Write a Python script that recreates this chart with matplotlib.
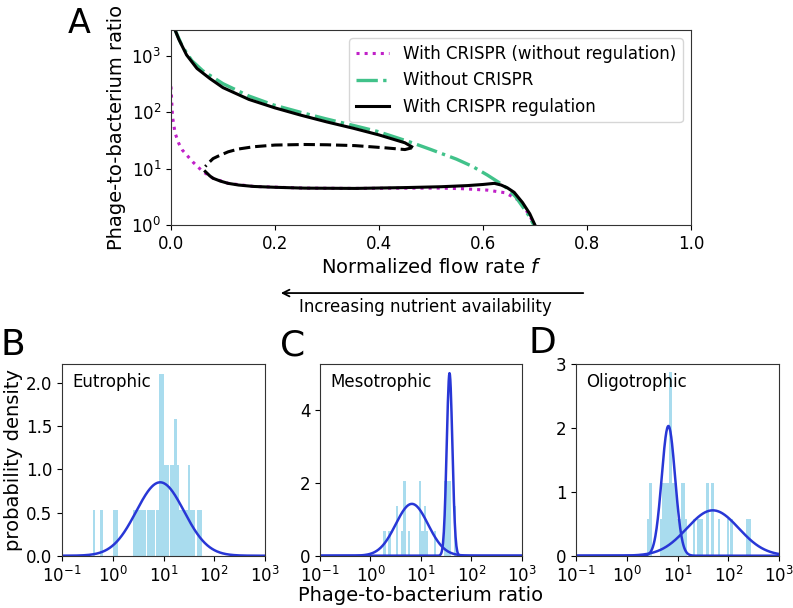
import numpy as np
import matplotlib
matplotlib.use('Agg')
from matplotlib import pyplot as plt
from matplotlib.ticker import NullLocator

# ---- panel A: steady states vs normalized flow rate (log10 of ratio)
f_noreg = [0.0, 0.003, 0.008, 0.015, 0.022, 0.042, 0.061, 0.081, 0.11, 0.159, 0.257,
           0.354, 0.452, 0.52, 0.56, 0.608, 0.642, 0.657, 0.671, 0.686, 0.70]
log_noreg = [2.46, 1.92, 1.63, 1.45, 1.33, 1.12, 0.95, 0.83, 0.74, 0.685, 0.655,
             0.65, 0.655, 0.655, 0.645, 0.62, 0.574, 0.503, 0.426, 0.22, 0.0]

f_nocrispr = [0.006, 0.008, 0.022, 0.04, 0.061, 0.1, 0.15, 0.198, 0.25, 0.296, 0.35,
              0.398, 0.461, 0.5, 0.549, 0.58, 0.608, 0.63, 0.647, 0.663, 0.676, 0.688, 0.696, 0.70]
log_nocrispr = [3.55, 3.46, 3.17, 2.92, 2.74, 2.51, 2.29, 2.13, 2.0, 1.89, 1.77,
                1.66, 1.47, 1.34, 1.17, 1.04, 0.89, 0.76, 0.65, 0.5, 0.33, 0.17, 0.03, 0.0]

f_upper = [0.006, 0.008, 0.015, 0.03, 0.05, 0.075, 0.1, 0.15, 0.2, 0.25, 0.3, 0.35, 0.4, 0.45, 0.463]
log_upper = [3.55, 3.46, 3.3, 3.02, 2.78, 2.6, 2.44, 2.23, 2.08, 1.95, 1.83, 1.72, 1.6, 1.46, 1.39]

f_unstable = [0.463, 0.45, 0.413, 0.354, 0.3, 0.257, 0.2, 0.159, 0.13, 0.11, 0.09, 0.081, 0.072, 0.066]
log_unstable = [1.37, 1.34, 1.37, 1.41, 1.425, 1.43, 1.42, 1.39, 1.35, 1.3, 1.22, 1.18, 1.1, 1.04]

f_lower = [0.066, 0.075, 0.081, 0.095, 0.11, 0.13, 0.159, 0.2, 0.257, 0.354, 0.452, 0.52,
           0.57, 0.6, 0.622, 0.635, 0.647, 0.66, 0.676, 0.69, 0.70]
log_lower = [0.95, 0.87, 0.83, 0.78, 0.74, 0.71, 0.685, 0.67, 0.655, 0.65, 0.665, 0.68,
             0.7, 0.72, 0.74, 0.71, 0.66, 0.58, 0.4, 0.2, 0.0]

# ---- panels B-D: histogram bars (log10 left/right edge, density) and gaussian fits in log10
eu_left = [-0.382, -0.243, 0.013, 0.408, 0.52, 0.67, 0.855, 0.908, 1.013, 1.118, 1.21, 1.263,
           1.303, 1.474, 1.513, 1.566, 1.658, 1.72]
eu_right = [-0.342, -0.197, 0.105, 0.513, 0.66, 0.842, 0.903, 1.008, 1.113, 1.21, 1.263, 1.303,
            1.474, 1.513, 1.553, 1.618, 1.71, 1.757]
eu_height = [0.53, 0.53, 0.53, 0.53, 0.53, 0.53, 0.53, 2.11, 1.05, 1.05, 1.58, 1.05,
             0.53, 1.05, 0.53, 0.53, 0.53, 0.53]
eu_fits = [(0.934, 0.47, 0.85)]

meso_left = [0.25, 0.355, 0.5, 0.605, 0.645, 0.737, 0.961, 1.0, 1.066, 1.105, 1.25, 1.46, 1.645]
meso_right = [0.303, 0.408, 0.553, 0.645, 0.697, 0.776, 1.0, 1.066, 1.105, 1.145, 1.29, 1.592, 1.684]
meso_height = [0.68, 0.68, 1.37, 0.68, 2.05, 0.68, 2.05, 0.68, 1.37, 0.68, 0.68, 2.05, 1.37]
meso_fits = [(0.82, 0.32, 1.42), (1.566, 0.056, 5.0)]

oligo_left = [0.397, 0.437, 0.649, 0.702, 0.834, 0.887, 0.98, 1.06, 1.152, 1.311, 1.391,
              1.563, 1.656, 1.80, 1.97, 2.04, 2.358]
oligo_right = [0.437, 0.49, 0.702, 0.834, 0.887, 0.98, 1.06, 1.152, 1.192, 1.351, 1.497,
               1.616, 1.709, 1.84, 2.01, 2.093, 2.45]
oligo_height = [0.57, 1.14, 0.57, 1.14, 2.87, 1.14, 0.57, 1.14, 0.57, 0.57, 0.57,
                1.14, 1.14, 0.57, 0.57, 0.57, 0.57]
oligo_fits = [(0.82, 0.132, 2.03), (1.695, 0.51, 0.71)]

plt.rcParams['font.family'] = 'DejaVu Sans'
fig = plt.figure(figsize=(7.93, 6.08), dpi=100)

# ---------------- panel A
axA = fig.add_axes([0.2156, 0.6299, 0.6557, 0.3207])
axA.plot(f_noreg, 10 ** np.array(log_noreg), ':', color='#c020c8', lw=2.2,
         label='With CRISPR (without regulation)')
axA.plot(f_nocrispr, 10 ** np.array(log_nocrispr), '-.', color='#41c28a', lw=2.4,
         label='Without CRISPR')
axA.plot(f_upper, 10 ** np.array(log_upper), '-', color='black', lw=2.2,
         label='With CRISPR regulation')
axA.plot(f_unstable, 10 ** np.array(log_unstable), '--', color='black', lw=2.2)
axA.plot(f_lower, 10 ** np.array(log_lower), '-', color='black', lw=2.2)
axA.set_yscale('log')
axA.set_xlim(0, 1)
axA.set_ylim(1, 2900)
axA.set_xticks([0, 0.2, 0.4, 0.6, 0.8, 1.0])
axA.set_yticks([1, 10, 100, 1000])
axA.yaxis.set_minor_locator(NullLocator())
axA.tick_params(labelsize=12)
axA.set_xlabel('Normalized flow rate $f$', fontsize=14)
axA.set_ylabel('Phage-to-bacterium ratio', fontsize=14)
axA.legend(loc='upper right', fontsize=12)

# arrow and label between panels
fig.add_artist(matplotlib.patches.FancyArrowPatch((0.739, 0.518), (0.3506, 0.518),
               transform=fig.transFigure, arrowstyle='->', mutation_scale=12,
               lw=1.3, color='black'))
fig.text(0.537, 0.495, 'Increasing nutrient availability', fontsize=12,
         ha='center', va='center')


def hist_panel(ax, left, right, height, fits, name, ytop, yticks):
    l = 10 ** np.array(left)
    r = 10 ** np.array(right)
    ax.bar(l, height, width=r - l, align='edge', color='#a9dcee', edgecolor='none')
    xs = np.logspace(-1, 3, 500)
    for mu, sig, peak in fits:
        ax.plot(xs, peak * np.exp(-0.5 * ((np.log10(xs) - mu) / sig) ** 2),
                color='#2837d6', lw=1.8)
    ax.set_xscale('log')
    ax.set_xlim(0.1, 1000)
    ax.set_ylim(0, ytop)
    ax.set_xticks([0.1, 1, 10, 100, 1000])
    ax.xaxis.set_minor_locator(NullLocator())
    ax.set_yticks(yticks)
    ax.tick_params(labelsize=12)
    ax.text(0.05, 0.907, name, transform=ax.transAxes, fontsize=12, va='center')


axB = fig.add_axes([0.0782, 0.086, 0.256, 0.3153])
hist_panel(axB, eu_left, eu_right, eu_height, eu_fits, 'Eutrophic', 2.22,
           [0, 0.5, 1.0, 1.5, 2.0])
axB.set_ylabel('probability density', fontsize=14, labelpad=2)

axC = fig.add_axes([0.4035, 0.086, 0.2547, 0.3153])
hist_panel(axC, meso_left, meso_right, meso_height, meso_fits, 'Mesotrophic', 5.25, [0, 2, 4])
axC.set_xlabel('Phage-to-bacterium ratio', fontsize=14, labelpad=0)

axD = fig.add_axes([0.7264, 0.086, 0.256, 0.3153])
hist_panel(axD, oligo_left, oligo_right, oligo_height, oligo_fits, 'Oligotrophic', 3.0,
           [0, 1, 2, 3])

for ax in [axA, axB, axC, axD]:
    for s in ax.spines.values():
        s.set_color('#333333')

fig.text(0.0858, 0.9457, 'A', fontsize=24, va='baseline')
fig.text(0.001, 0.416, 'B', fontsize=26, va='baseline')
fig.text(0.353, 0.416, 'C', fontsize=26, va='baseline')
fig.text(0.666, 0.419, 'D', fontsize=26, va='baseline')

fig.savefig('out.png', dpi=100)
